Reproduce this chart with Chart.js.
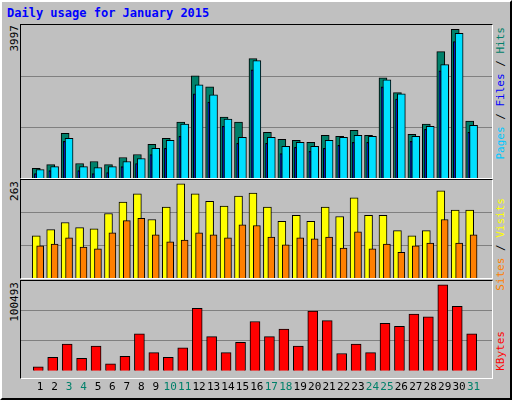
<!DOCTYPE html>
<html>
<head>
<meta charset="utf-8">
<script src="https://cdn.jsdelivr.net/npm/chart.js@4/dist/chart.umd.min.js"></script>
<style>
  html, body { margin: 0; padding: 0; }
  body { width: 512px; height: 400px; background: #c0c0c0; position: relative; overflow: hidden;
         font-family: "DejaVu Sans Mono", monospace; }
  #frame { position: absolute; left: 0; top: 0; width: 508px; height: 396px;
           border: 2px solid; border-color: #ffffff #000000 #000000 #ffffff; box-sizing: border-box; width: 512px; height: 400px; }
  #title { position: absolute; left: 7px; top: 6px; color: #0000ff; font-weight: bold; font-size: 12px; }
  .panel { position: absolute; left: 20px; width: 471px; border: 1px solid; border-color: #000 #fff #fff #000; }
  .panel canvas { display: block; }
  .vl { position: absolute; writing-mode: vertical-rl; transform: rotate(180deg); font-size: 11px; white-space: nowrap; }
</style>
</head>
<body>
<div id="frame"></div>
<div id="title">Daily usage for January 2015</div>

<div class="panel" style="top:24px;height:153px"><canvas id="c1"></canvas></div>
<div class="panel" style="top:179px;height:98px"><canvas id="c2"></canvas></div>
<div class="panel" style="top:280px;height:97px"></div>
<div style="position:absolute;left:21px;top:281px;width:471px;height:115px"><canvas id="c3"></canvas></div>

<div class="vl" style="left:8px;top:25px;color:#000">3997</div>
<div class="vl" style="left:8px;top:181px;color:#000">263</div>
<div class="vl" style="left:8px;top:282px;color:#000">100493</div>
<div class="vl" style="left:494px;top:27px"><span style="color:#00c8ff">Pages</span> / <span style="color:#0000ff">Files</span> / <span style="color:#00806a">Hits</span></div>
<div class="vl" style="left:494px;top:198px"><span style="color:#ff8000">Sites</span> / <span style="color:#ffff00">Visits</span></div>
<div class="vl" style="left:494px;top:331px;color:#ff0000">KBytes</div>

<script>
// ── Data ─────────────────────────────────────────
const days    = Array.from({ length: 31 }, (_, i) => i + 1);
const weekend = [3, 4, 10, 11, 17, 18, 24, 25, 31];

const hits   = [255, 351, 1168, 378, 430, 351, 536, 615, 879, 1037, 1458, 2671, 2381, 1590, 1458, 3119,
                1195, 1010, 984, 931, 1116, 1089, 1247, 1116, 2618, 2231, 1142, 1406, 3303, 3883, 1485];
const files  = [220, 299, 1037, 299, 272, 299, 430, 510, 773, 984, 1406, 2433, 2170, 1537, 1063, 3066,
                1063, 826, 931, 826, 984, 1063, 1116, 1089, 2565, 2196, 1089, 1353, 2960, 3778, 1379];
const pages  = [114, 193, 958, 193, 114, 141, 299, 378, 615, 773, 1089, 2196, 1985, 1353, 905, 2829,
                905, 641, 799, 694, 773, 852, 931, 931, 2381, 2064, 958, 1274, 2802, 3567, 1195];
const visits = [113, 130, 149, 135, 132, 173, 204, 226, 157, 190, 253, 226, 206, 193, 220, 228,
                190, 152, 168, 152, 190, 165, 215, 168, 168, 127, 113, 127, 234, 182, 182];
const sites  = [86, 91, 108, 83, 78, 121, 154, 160, 116, 97, 102, 121, 116, 108, 143, 141,
                110, 89, 108, 105, 110, 80, 124, 78, 91, 69, 86, 94, 157, 94, 116];
const kbytes = [4568, 15110, 29869, 14056, 27760, 7731, 16164, 41465, 20381, 15110, 25652, 69928, 38302,
                20381, 31977, 55170, 38302, 46736, 27760, 66766, 56224, 19327, 29869, 20381, 53061,
                49899, 63603, 60441, 96284, 72037, 41465];

const maxHits = 3997;
const maxVisits = 263;
const maxKb = 100493;

// ── Helpers ──────────────────────────────────────
const pts = (vals, shift) => vals.map((v, i) => ({ x: days[i] + shift, y: v }));

function bars(label, vals, shift, color, width) {
    return {
        label, data: pts(vals, shift), backgroundColor: color,
        borderColor: '#000', borderWidth: 1, barThickness: width, grouped: false
    };
}

function makeChart(id, datasets, max, showDays) {
    return new Chart(document.getElementById(id), {
        type: 'bar',
        data: { datasets },
        options: {
            responsive: true, maintainAspectRatio: false, animation: false,
            layout: { padding: 0 },
            plugins: { legend: { display: false }, tooltip: { enabled: false } },
            scales: {
                x: {
                    type: 'linear', min: 0.2, max: 31.75, display: showDays,
                    grid: { display: false }, border: { display: false },
                    afterBuildTicks: s => { s.ticks = days.map(d => ({ value: d })); },
                    ticks: {
                        autoSkip: false, maxRotation: 0, padding: 2,
                        font: { family: 'DejaVu Sans Mono', size: 11 },
                        color: c => weekend.includes(c.tick.value) ? '#00806a' : '#000',
                        callback: v => String(v)
                    }
                },
                y: {
                    min: 0, max, display: true,
                    afterBuildTicks: s => { s.ticks = [1, 2].map(k => ({ value: max * k / 3 })); },
                    ticks: { display: false },
                    grid: { color: '#808080', drawTicks: false },
                    border: { display: false }
                }
            }
        }
    });
}

makeChart('c1', [
    bars('Pages', pages, -0.33, '#0000ff', 2),
    bars('Files', files, 0, '#00e0ff', 8),
    bars('Hits', hits, -0.27, '#00806a', 8)
], maxHits, false);

makeChart('c2', [
    bars('Sites', sites, 0, '#ff8000', 7),
    bars('Visits', visits, -0.27, '#ffff00', 8)
], maxVisits, false);

makeChart('c3', [
    bars('KBytes', kbytes, -0.13, '#ff0000', 10)
], maxKb, true);
</script>
</body>
</html>
